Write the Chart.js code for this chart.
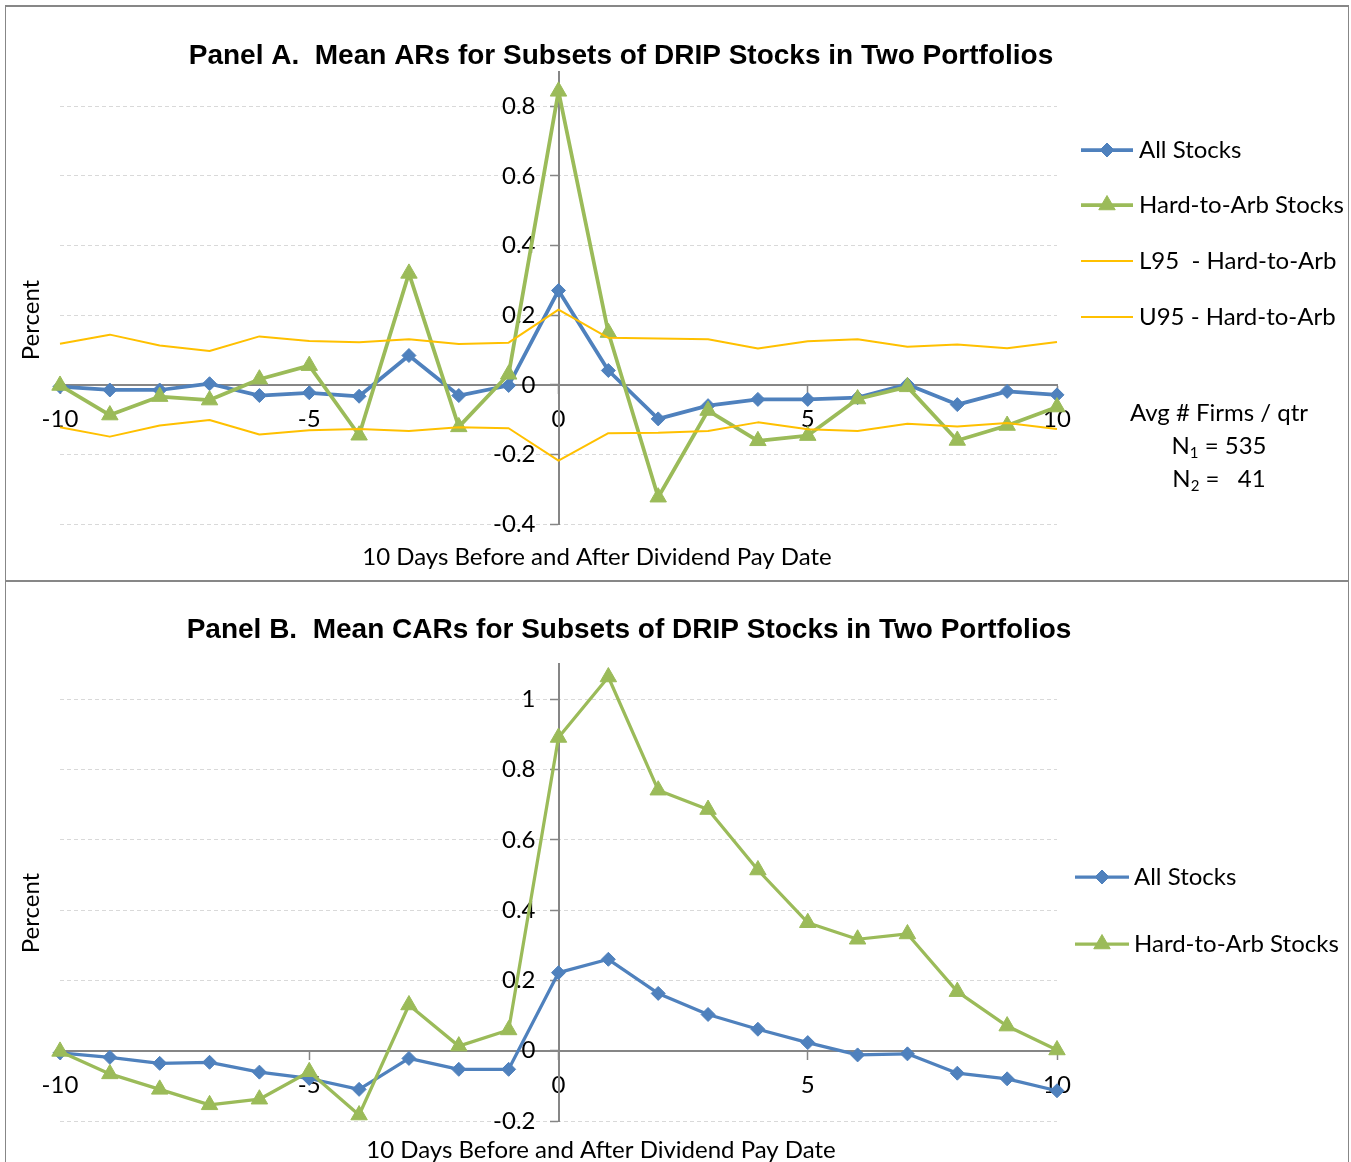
<!DOCTYPE html>
<html>
<head>
<meta charset="utf-8">
<title>Mean ARs and CARs for DRIP Stocks</title>
<script src="https://cdn.jsdelivr.net/npm/chart.js@4.4.0/dist/chart.umd.min.js"></script>
<style>
  html, body { margin: 0; padding: 0; background: #fff; }
  body { width: 1351px; height: 1162px; position: relative; overflow: hidden; }
  canvas { position: absolute; left: 0; }
  #chartA { top: 0; }
  #chartB { top: 582px; }
  .rule { position: absolute; background: #878787; }
</style>
</head>
<body>
<canvas id="chartA" width="1351" height="580"></canvas>
<canvas id="chartB" width="1351" height="580"></canvas>
<div class="rule" style="left:5px;top:5px;width:1344px;height:2px"></div>
<div class="rule" style="left:5px;top:5px;width:1px;height:1157px"></div>
<div class="rule" style="left:1348px;top:5px;width:1px;height:1157px"></div>
<div class="rule" style="left:5px;top:580px;width:1344px;height:2px"></div>
<script>
// Event days around the dividend pay date
const days = [-10, -9, -8, -7, -6, -5, -4, -3, -2, -1, 0, 1, 2, 3, 4, 5, 6, 7, 8, 9, 10];

// Panel A: mean abnormal returns (percent)
const arAll  = [-0.005, -0.015, -0.015, 0.003, -0.031, -0.023, -0.033, 0.084, -0.031, -0.002, 0.271, 0.041, -0.098, -0.060, -0.042, -0.042, -0.037, 0.001, -0.057, -0.019, -0.029];
const arHard = [-0.002, -0.087, -0.034, -0.044, 0.016, 0.055, -0.145, 0.320, -0.121, 0.030, 0.843, 0.150, -0.323, -0.074, -0.161, -0.146, -0.041, -0.006, -0.160, -0.117, -0.064];
const arL95  = [-0.122, -0.149, -0.117, -0.101, -0.143, -0.131, -0.127, -0.133, -0.122, -0.125, -0.218, -0.139, -0.138, -0.133, -0.108, -0.128, -0.133, -0.112, -0.120, -0.110, -0.127];
const arU95  = [0.118, 0.144, 0.113, 0.097, 0.139, 0.126, 0.122, 0.131, 0.117, 0.121, 0.216, 0.135, 0.133, 0.131, 0.104, 0.125, 0.131, 0.109, 0.116, 0.105, 0.123];

// Panel B: mean cumulative abnormal returns (percent)
const carAll  = [-0.006, -0.019, -0.036, -0.033, -0.061, -0.079, -0.110, -0.022, -0.053, -0.053, 0.222, 0.260, 0.163, 0.103, 0.061, 0.023, -0.012, -0.009, -0.064, -0.080, -0.114];
const carHard = [-0.002, -0.066, -0.110, -0.154, -0.138, -0.060, -0.183, 0.130, 0.013, 0.059, 0.891, 1.063, 0.741, 0.686, 0.514, 0.364, 0.317, 0.332, 0.168, 0.070, 0.002];

// Series names and text
const seriesNames = ['All Stocks', 'Hard-to-Arb Stocks', 'L95  - Hard-to-Arb', 'U95 - Hard-to-Arb'];
const titleA = 'Panel A.  Mean ARs for Subsets of DRIP Stocks in Two Portfolios';
const titleB = 'Panel B.  Mean CARs for Subsets of DRIP Stocks in Two Portfolios';
const xTitle = '10 Days Before and After Dividend Pay Date';
const yTitle = 'Percent';
const xTickValues = [-10, -5, 0, 5, 10];

const BLUE = '#4F81BD', GREEN = '#9BBB59', GOLD = '#FFC000', AXIS = '#868686', GRID = '#D9D9D9';
const BODY_FONT = 'Lato';
const TITLE_FONT = '"Liberation Sans", Arial, sans-serif';
const BODY = 24;
const TITLE = 28;

const pts = vals => days.map((d, i) => ({ x: d, y: vals[i] }));
const fmt = v => String(Math.round(v * 10) / 10);

function lineSet(label, vals, color, width, style, radius, order) {
  return {
    label, data: pts(vals), borderColor: color, backgroundColor: color,
    borderWidth: width, pointStyle: style, pointRadius: radius, pointHoverRadius: radius,
    pointBorderWidth: 1, pointBackgroundColor: color, pointBorderColor: color,
    tension: 0, borderJoinStyle: 'round', clip: false, order
  };
}

// Value labels of the vertical axis, set to the left of the axis line at x = 0
const yAxisLabels = {
  id: 'yAxisLabels',
  beforeDatasetsDraw(chart, args, o) {
    const ctx = chart.ctx, ys = chart.scales.y, xs = chart.scales.x;
    const right = xs.getPixelForValue(0) - o.gap;
    ctx.save();
    ctx.font = BODY + 'px ' + BODY_FONT;
    ctx.fillStyle = '#000';
    ctx.textAlign = 'right';
    ctx.textBaseline = 'middle';
    ys.ticks.forEach(t => ctx.fillText(fmt(t.value), right, ys.getPixelForValue(t.value)));
    ctx.restore();
  }
};

// Titles, legend and note drawn in panel coordinates
const panelText = {
  id: 'panelText',
  afterDraw(chart, args, o) {
    const ctx = chart.ctx;
    ctx.save();
    ctx.fillStyle = '#000';
    ctx.textBaseline = 'middle';
    ctx.textAlign = 'center';
    ctx.font = 'bold ' + TITLE + 'px ' + TITLE_FONT;
    ctx.fillText(o.title, o.titleX, o.titleY);
    ctx.font = BODY + 'px ' + BODY_FONT;
    ctx.fillText(xTitle, o.xTitleX, o.xTitleY);
    ctx.save();
    ctx.translate(o.yTitleX, o.yTitleY);
    ctx.rotate(-Math.PI / 2);
    ctx.fillText(yTitle, 0, 0);
    ctx.restore();

    // legend: line sample with marker, then series name
    ctx.textAlign = 'left';
    chart.data.datasets.forEach((ds, i) => {
      const y = o.legend.ys[i];
      ctx.save();
      ctx.strokeStyle = ds.borderColor;
      ctx.lineWidth = ds.borderWidth;
      ctx.beginPath();
      ctx.moveTo(o.legend.x0, y);
      ctx.lineTo(o.legend.x1, y);
      ctx.stroke();
      if (ds.pointRadius > 0) {
        ctx.lineWidth = 1;
        ctx.fillStyle = ds.backgroundColor;
        Chart.helpers.drawPoint(ctx, {
          pointStyle: ds.pointStyle, radius: ds.pointRadius, rotation: 0, borderWidth: 1
        }, (o.legend.x0 + o.legend.x1) / 2, y);
      }
      ctx.restore();
      ctx.fillText(ds.label, o.legend.textX, y);
    });

    // firm counts with subscripted N
    if (o.note) {
      const n = o.note;
      const big = BODY + 'px ' + BODY_FONT, small = Math.round(BODY * 0.62) + 'px ' + BODY_FONT;
      ctx.font = big;
      ctx.textAlign = 'center';
      ctx.fillText(n.head, n.cx, n.ys[0]);
      n.rows.forEach((r, k) => {
        ctx.font = big; const wN = ctx.measureText('N').width; const wR = ctx.measureText(r.rest).width;
        ctx.font = small; const wS = ctx.measureText(r.sub).width;
        let x = n.cx - (wN + wS + wR) / 2;
        const y = n.ys[k + 1];
        ctx.textAlign = 'left';
        ctx.font = big; ctx.fillText('N', x, y); x += wN;
        ctx.font = small; ctx.fillText(r.sub, x, y + 7); x += wS;
        ctx.font = big; ctx.fillText(r.rest, x, y);
      });
    }
    ctx.restore();
  }
};

function makeScales(yMin, yMax) {
  const tickFont = { family: BODY_FONT, size: BODY };
  return {
    x: {
      type: 'linear', min: -10, max: 10, position: { y: 0 },
      afterFit(s) { s.height = 0; },
      afterBuildTicks(s) { s.ticks = xTickValues.map(v => ({ value: v })); },
      ticks: { font: tickFont, color: '#000', padding: 12.3, maxRotation: 0, autoSkip: false, callback: v => String(v) },
      grid: { drawOnChartArea: false, drawTicks: true, tickLength: 8, tickColor: AXIS, tickWidth: 1.5, color: AXIS },
      border: { color: AXIS, width: 2 }
    },
    y: {
      type: 'linear', min: yMin, max: yMax, position: { x: 0 },
      afterFit(s) { s.width = 0; },
      afterBuildTicks(s) {
        s.ticks = s.ticks.filter(t => Math.abs(t.value * 5 - Math.round(t.value * 5)) < 1e-6);
      },
      ticks: { stepSize: 0.2, display: false },
      grid: {
        color: c => (c.tick && Math.abs(c.tick.value) < 1e-9) ? 'rgba(0,0,0,0)' : GRID,
        tickColor: AXIS, tickLength: 8, tickWidth: 1.5, lineWidth: 1
      },
      border: { color: AXIS, width: 2, dash: [4, 3] }
    }
  };
}

const basePlugins = { legend: { display: false }, tooltip: { enabled: false }, title: { display: false }, yAxisLabels: { gap: 23 } };

new Chart(document.getElementById('chartA'), {
  type: 'line',
  data: {
    datasets: [
      lineSet(seriesNames[0], arAll, BLUE, 3.75, 'rectRot', 7, 4),
      lineSet(seriesNames[1], arHard, GREEN, 3.75, 'triangle', 9.5, 3),
      lineSet(seriesNames[2], arL95, GOLD, 2, 'circle', 0, 2),
      lineSet(seriesNames[3], arU95, GOLD, 2, 'circle', 0, 1)
    ]
  },
  options: {
    responsive: false, animation: false, devicePixelRatio: 1,
    layout: { padding: { left: 60, right: 294, top: 71.5, bottom: 56 } },
    scales: makeScales(-0.4, 0.9),
    plugins: Object.assign({}, basePlugins, {
      panelText: {
        title: titleA, titleX: 621, titleY: 56,
        xTitleX: 597, xTitleY: 557, yTitleX: 31, yTitleY: 320,
        legend: { x0: 1081, x1: 1133, textX: 1139, ys: [150, 205, 261, 317] },
        note: { cx: 1219, head: 'Avg # Firms / qtr', ys: [413, 446, 479],
                rows: [{ sub: '1', rest: ' = 535' }, { sub: '2', rest: ' =   41' }] }
      }
    })
  },
  plugins: [yAxisLabels, panelText]
});

new Chart(document.getElementById('chartB'), {
  type: 'line',
  data: {
    datasets: [
      lineSet(seriesNames[0], carAll, BLUE, 3.25, 'rectRot', 7, 2),
      lineSet(seriesNames[1], carHard, GREEN, 3.25, 'triangle', 9.5, 1)
    ]
  },
  options: {
    responsive: false, animation: false, devicePixelRatio: 1,
    layout: { padding: { left: 60, right: 294, top: 82, bottom: 41 } },
    scales: makeScales(-0.2, 1.1),
    plugins: Object.assign({}, basePlugins, {
      panelText: {
        title: titleB, titleX: 629, titleY: 48,
        xTitleX: 601, xTitleY: 568, yTitleX: 31, yTitleY: 331,
        legend: { x0: 1075, x1: 1129, textX: 1134, ys: [295, 362] }
      }
    })
  },
  plugins: [yAxisLabels, panelText]
});
</script>
</body>
</html>
